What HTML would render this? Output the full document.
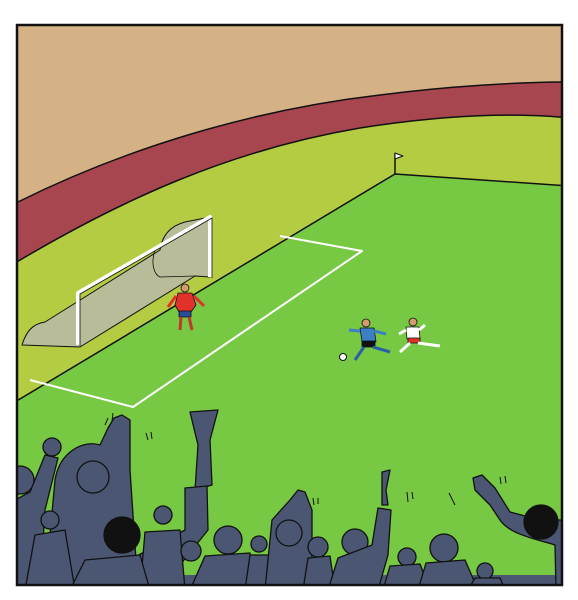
<!DOCTYPE html>
<html><head><meta charset="utf-8"><style>
html,body{margin:0;padding:0;background:#fff;width:578px;height:600px;overflow:hidden}
svg{display:block}
</style></head><body>
<svg width="578" height="600" viewBox="0 0 578 600">
<defs><clipPath id="fr"><rect x="17" y="25" width="545" height="560"/></clipPath></defs>
<g clip-path="url(#fr)" stroke-linejoin="round">
  <rect x="17" y="25" width="545" height="560" fill="#d5b186"/>
  <path d="M10 206 C120 150 250 110 380 95 C450 86 520 82 570 82 L570 130 L10 600 Z" fill="#a8464f" stroke="#111" stroke-width="1.5"/>
  <path d="M10 266 C120 200 230 150 360 128 C450 114 520 113 570 118 L570 600 L10 600 Z" fill="#b3cc42" stroke="#111" stroke-width="1.5"/>
  <path d="M10 405 L395 174 L570 186 L570 600 L10 600 Z" fill="#77c843" stroke="#111" stroke-width="1.5"/>
  <line x1="395" y1="174" x2="395" y2="153" stroke="#111" stroke-width="1.5"/>
  <path d="M395 153 L403 156 L395 159 Z" fill="#fff" stroke="#111" stroke-width="1"/>
  <path d="M280 236 L362 251 L133 407 L30 380" fill="none" stroke="#fff" stroke-width="2"/>
  <!-- goal -->
  <path d="M22 345 C26 332 32 324 45 322 L160 250 C162 236 170 226 185 222 L210 217 L210 277 L195 276 L80 347 Z" fill="#b8bc98" stroke="#111" stroke-width="1"/>
  <path d="M155 250 C150 265 155 275 160 277 L195 276" fill="none" stroke="#111" stroke-width="0.8"/>
  <path d="M78 345 L78 293 L210 217 L210 277" fill="none" stroke="#fff" stroke-width="4"/>
  <path d="M78 345 L78 293 L210 217 L210 277" fill="none" stroke="#111" stroke-width="0.8" transform="translate(2,1)"/>
  <!-- goalkeeper -->
  <g stroke="#111" stroke-width="0.8">
    <circle cx="185" cy="288" r="4" fill="#d49a70"/>
    <path d="M178 293 L192 293 L196 305 L191 312 L179 312 L175 305 Z" fill="#e0322a"/>
    <path d="M176 296 L168 307 M194 296 L204 306" stroke="#e0322a" stroke-width="3"/>
    <rect x="179" y="311" width="12" height="6" fill="#2a4c9a"/>
    <path d="M181 317 L180 330 M189 317 L192 330" stroke="#c0392b" stroke-width="3"/>
  </g>
  <!-- attacker blue -->
  <g stroke="#111" stroke-width="0.8">
    <circle cx="366" cy="323" r="4" fill="#d49a70"/>
    <path d="M360 328 L374 328 L376 342 L362 342 Z" fill="#3d7fc4"/>
    <path d="M360 331 L349 330 M374 331 L386 334" stroke="#3d7fc4" stroke-width="3"/>
    <rect x="362" y="341" width="13" height="6" fill="#111"/>
    <path d="M364 347 L355 360 M373 347 L390 352" stroke="#2a5fa8" stroke-width="3"/>
  </g>
  <circle cx="343" cy="357" r="3.5" fill="#fff" stroke="#111" stroke-width="1"/>
  <!-- defender white -->
  <g stroke="#111" stroke-width="0.8">
    <circle cx="413" cy="322" r="4" fill="#d49a70"/>
    <path d="M406 327 L419 327 L420 339 L407 339 Z" fill="#fff"/>
    <path d="M406 330 L399 334 M419 330 L425 325" stroke="#fff" stroke-width="3"/>
    <rect x="408" y="338" width="12" height="5" fill="#e0322a"/>
    <path d="M410 343 L400 352 M418 343 L440 346" stroke="#fff" stroke-width="3"/>
  </g>
  <!-- crowd -->
  <g fill="#4b5772" stroke="#111" stroke-width="1.3" stroke-linecap="round">
    <path d="M10 590 L10 575 L560 575 L570 590 Z" stroke="none"/>
    <circle cx="20" cy="480" r="14"/>
    <path d="M15 500 L30 492 L45 455 L58 458 L45 510 L40 590 L10 590 Z"/>
    <circle cx="52" cy="447" r="9"/>
    <path d="M45 590 L55 480 C60 450 85 440 100 445 L108 428 L114 418 L122 415 L130 420 L130 470 L138 590 Z"/>
    <circle cx="93" cy="477" r="16"/>
    <circle cx="50" cy="520" r="9"/>
    <path d="M25 590 L35 535 L65 530 L75 590 Z"/>
    <path d="M190 412 L218 410 L210 440 L212 485 L195 490 L198 445 Z"/>
    <path d="M185 488 L207 486 L208 530 L180 565 L150 590 L100 590 L120 565 L185 530 Z"/>
    <circle cx="163" cy="515" r="9"/>
    <path d="M140 590 L145 532 L180 530 L185 590 Z"/>
    <circle cx="122" cy="535" r="18" fill="#111"/>
    <path d="M70 590 L85 560 L140 555 L150 590 Z"/>
    <circle cx="191" cy="551" r="10"/>
    <circle cx="228" cy="540" r="14"/>
    <path d="M190 590 L205 556 L250 553 L255 590 Z"/>
    <circle cx="259" cy="544" r="8"/>
    <path d="M245 590 L250 555 L270 555 L275 590 Z"/>
    <path d="M265 590 L272 520 L290 500 L298 490 L305 492 L312 510 L312 590 Z"/>
    <circle cx="289" cy="533" r="13"/>
    <circle cx="318" cy="547" r="10"/>
    <path d="M303 590 L308 558 L330 556 L335 590 Z"/>
    <circle cx="355" cy="542" r="13"/>
    <path d="M382 472 L390 470 L386 490 L388 505 L382 505 Z"/>
    <path d="M328 590 L338 558 L372 545 L378 508 L391 510 L388 555 L378 590 Z"/>
    <circle cx="407" cy="557" r="9"/>
    <path d="M383 590 L390 566 L420 564 L430 590 Z"/>
    <circle cx="444" cy="548" r="14"/>
    <path d="M418 590 L426 563 L465 560 L478 590 Z"/>
    <circle cx="485" cy="571" r="8"/>
    <path d="M468 590 L475 578 L500 578 L505 590 Z"/>
    <path d="M556 590 L555 545 C540 540 510 535 500 520 L490 505 L475 490 L473 478 L482 475 L495 488 L510 512 L540 520 L570 520 L570 590 Z"/>
    <circle cx="541" cy="522" r="17" fill="#111"/>
  </g>
  <g stroke="#111" stroke-width="1" fill="none">
    <path d="M105 425 L108 418 M112 421 L113 413 M146 433 L148 440 M151 432 L152 439 M313 498 L314 505 M318 498 L318 504 M407 492 L408 502 M412 492 L413 499 M449 493 L455 505 M500 477 L501 484 M505 476 L506 483"/>
  </g>
</g>
<rect x="17" y="25" width="545" height="560" fill="none" stroke="#111" stroke-width="2.5"/>
</svg>
</body></html>
